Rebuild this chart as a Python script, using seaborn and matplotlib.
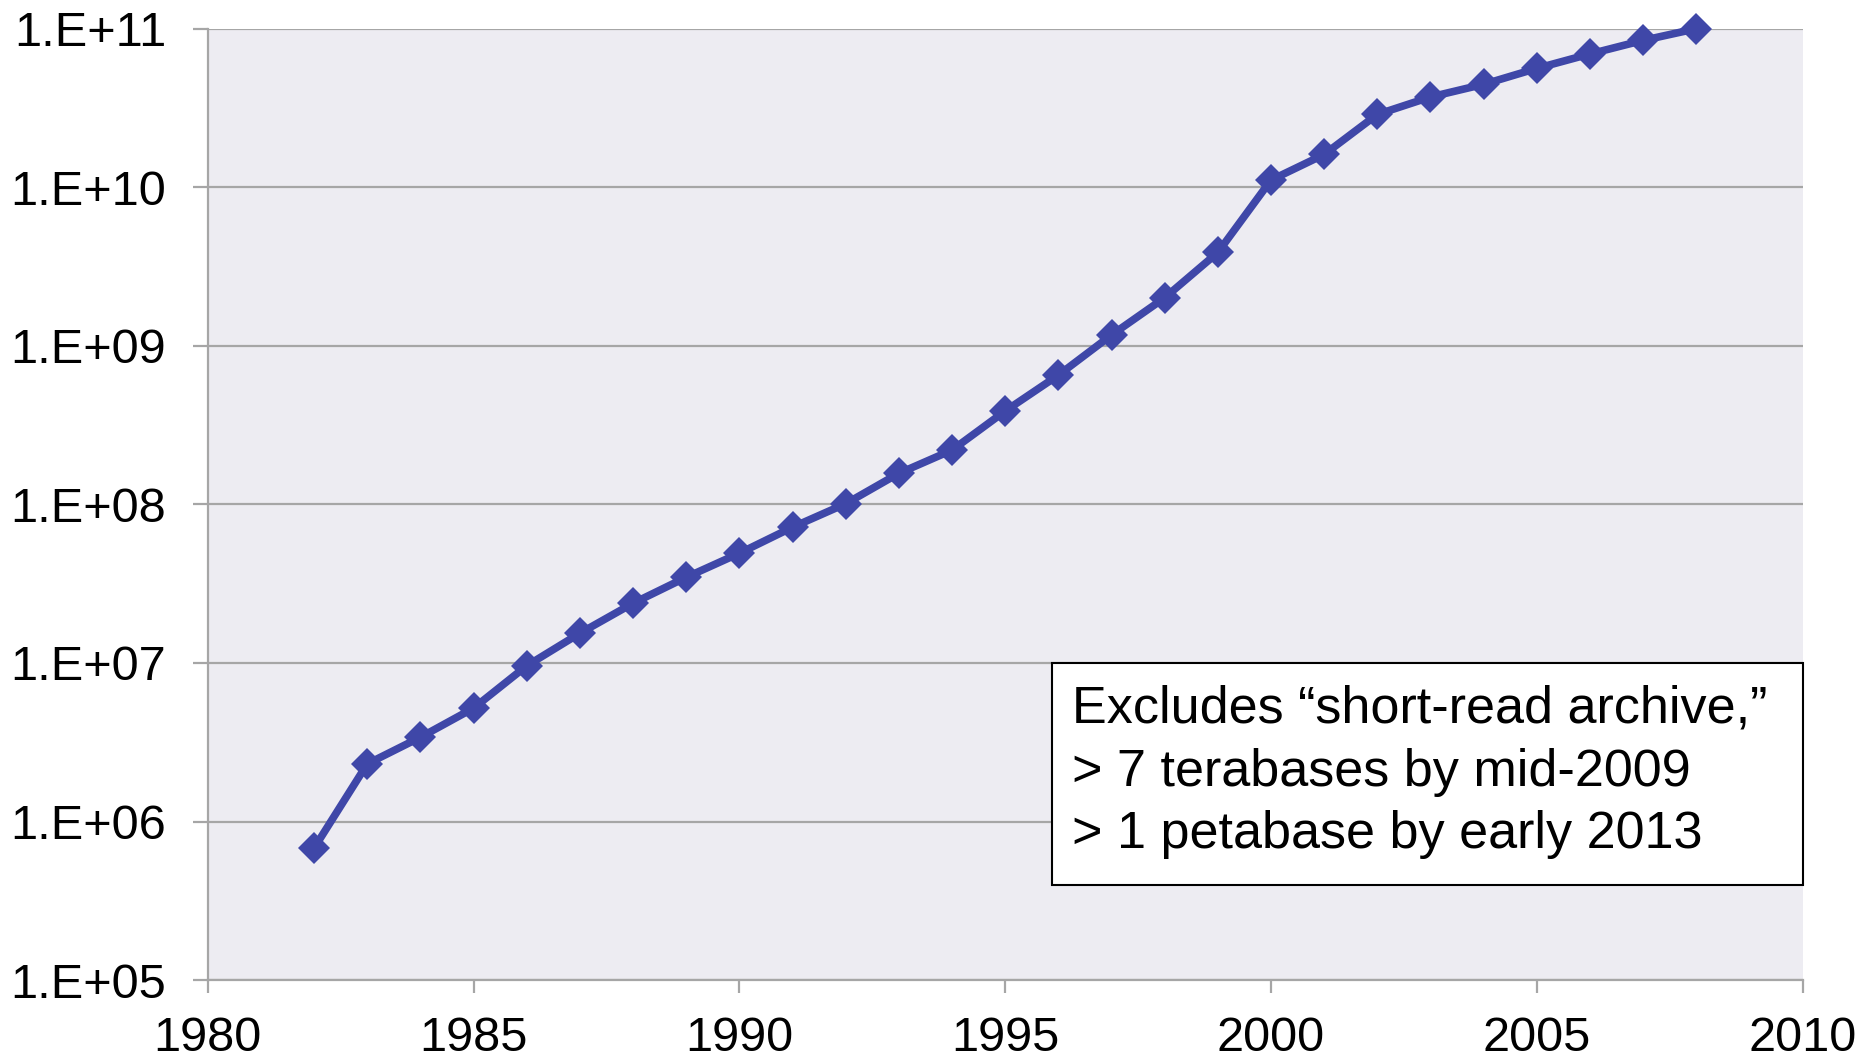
import pandas as pd
import seaborn as sns
import matplotlib.pyplot as plt
from matplotlib.ticker import FixedLocator, NullLocator
from matplotlib.patches import Rectangle

# Values (base pairs, log scale)
years = list(range(1982, 2009))
bases = [6.8e5, 2.31e6, 3.40e6, 5.19e6, 9.6e6, 1.54e7, 2.38e7, 3.47e7, 4.92e7,
         7.18e7, 1.01e8, 1.57e8, 2.20e8, 3.88e8, 6.53e8, 1.17e9, 2.01e9, 3.88e9,
         1.11e10, 1.61e10, 2.88e10, 3.71e10, 4.46e10, 5.62e10, 6.93e10, 8.44e10,
         1.0e11]
y_ticks = [1e5, 1e6, 1e7, 1e8, 1e9, 1e10, 1e11]
y_labels = ['1.E+05', '1.E+06', '1.E+07', '1.E+08', '1.E+09', '1.E+10', '1.E+11']
x_ticks = [1980, 1985, 1990, 1995, 2000, 2005, 2010]
note_lines = ["Excludes \u201cshort-read archive,\u201d",
              "> 7 terabases by mid-2009",
              "> 1 petabase by early 2013"]

df = pd.DataFrame({'year': years, 'bases': bases})

sns.set_theme(style='darkgrid')
plt.rcParams['font.family'] = ['Liberation Sans', 'DejaVu Sans']
plt.rcParams['text.color'] = 'black'
plt.rcParams['axes.facecolor'] = '#EDECF2'
grid_col = '#A6A6A6'
tick_fs = 35
note_fs = 37.5

fig = plt.figure(figsize=(18.62, 10.63), dpi=100)
ax = fig.add_axes([0.1116, 0.078, 0.9681 - 0.1116, 0.973 - 0.078])

sns.lineplot(data=df, x='year', y='bases', ax=ax, color='#3F47A8',
             linewidth=5.5, marker='D', markersize=16, markeredgewidth=0,
             zorder=3, clip_on=False)

ax.set_yscale('log')
ax.set_xlim(1980, 2010)
ax.set_ylim(1e5, 1e11)
ax.yaxis.set_major_locator(FixedLocator(y_ticks))
ax.yaxis.set_minor_locator(NullLocator())
ax.set_yticklabels(y_labels)
ax.xaxis.set_major_locator(FixedLocator(x_ticks))
ax.set_xticklabels([str(x) for x in x_ticks])

ax.grid(axis='y', color=grid_col, linewidth=1.6)
ax.grid(axis='x', visible=False)
for side in ['top', 'right']:
    ax.spines[side].set_visible(False)
for side in ['left', 'bottom']:
    ax.spines[side].set_visible(True)
    ax.spines[side].set_color(grid_col)
    ax.spines[side].set_linewidth(1.6)
ax.tick_params(axis='both', labelsize=tick_fs, labelcolor='black')
ax.tick_params(axis='x', direction='out', length=9, width=1.6, color=grid_col,
               bottom=True, pad=17)
ax.tick_params(axis='y', direction='out', length=11, width=1.6, color=grid_col,
               left=True, pad=19)
ax.set_xlabel('')
ax.set_ylabel('')

# Note box
ax.add_patch(Rectangle((0.5293, 0.0998), 1.0 - 0.5293, 0.3332 - 0.0998,
                       transform=ax.transAxes, facecolor='white',
                       edgecolor='black', linewidth=1.5, zorder=4,
                       clip_on=False))
ax.text(0.5419, 0.2186, '\n'.join(note_lines), transform=ax.transAxes,
        fontsize=note_fs, ha='left', va='center', linespacing=1.36, zorder=5,
        color='black')

plt.savefig('out.png', dpi=100)
plt.close(fig)
